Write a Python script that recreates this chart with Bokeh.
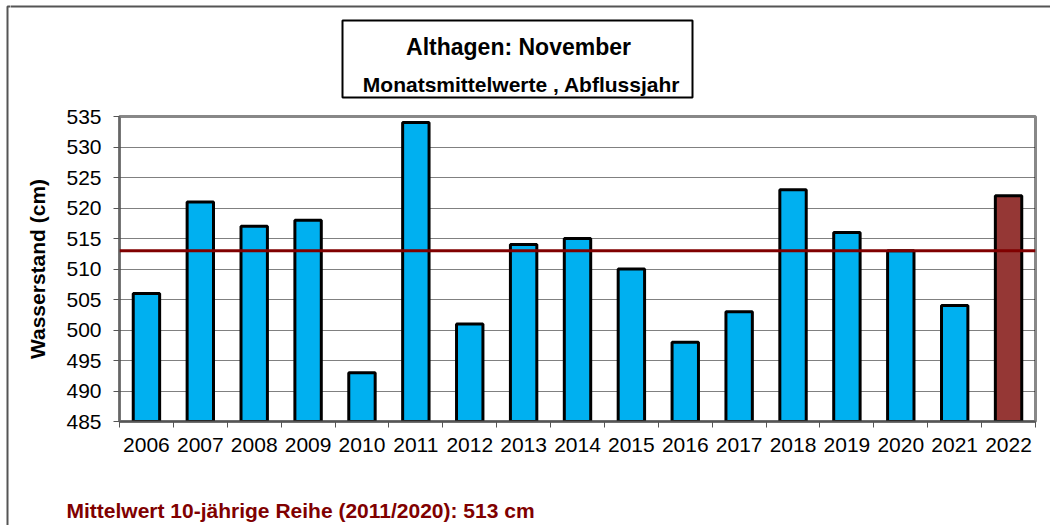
from bokeh.plotting import figure
from bokeh.layouts import row, column
from bokeh.models import (Range1d, LinearAxis, FixedTicker,
                          Span, Label, BoxAnnotation, ColumnDataSource)
from bokeh.embed import file_html
from bokeh.resources import INLINE

years = ["2006", "2007", "2008", "2009", "2010", "2011", "2012", "2013", "2014",
         "2015", "2016", "2017", "2018", "2019", "2020", "2021", "2022"]
levels = [506, 521, 517, 518, 493, 534, 501, 514, 515, 510, 498, 503, 523, 516, 513, 504, 522]
mean_10y = 513
y_min, y_max = 485, 535
y_ticks = [485, 490, 495, 500, 505, 510, 515, 520, 525, 530, 535]

title_text = "Althagen: November"
subtitle_text = "Monatsmittelwerte , Abflussjahr"
y_label = "Wasserstand (cm)"
mean_text = "Mittelwert 10-jährige Reihe (2011/2020): 513 cm"

FONT = "Liberation Sans"
BLUE = "#00B0F0"
CURRENT = "#953735"
DARKRED = "#800000"
BORDER = "#555555"

TOTAL_H = 525
STRIP_W = 10
MAIN_W = 1040
TOP_H = 100
BOTTOM_H = 55
MAIN_H = TOTAL_H - TOP_H - BOTTOM_H
MAIN_TOP = 16


def blank(width, height):
    f = figure(width=width, height=height, output_backend="svg", toolbar_location=None,
               x_axis_location=None, y_axis_location=None,
               x_range=Range1d(0, 1), y_range=Range1d(0, 1),
               min_border_left=0, min_border_right=0, min_border_top=0, min_border_bottom=0)
    f.frame_align = False
    f.grid.visible = False
    f.outline_line_color = None
    return f


def screen_box(**kw):
    return BoxAnnotation(left_units="screen", right_units="screen",
                         top_units="screen", bottom_units="screen", **kw)


# --- left strip: outer chart border (left edge) ---
strip = blank(STRIP_W, TOTAL_H)
strip.add_layout(screen_box(left=7, right=500, top=TOTAL_H - 6, bottom=-500,
                            fill_color=None, line_color=BORDER, line_alpha=1, line_width=2))

# --- top: outer border (top edge) and title box ---
top = blank(MAIN_W, TOP_H)
top.add_layout(screen_box(left=-500, right=5000, top=TOP_H - 6, bottom=-500,
                          fill_color=None, line_color=BORDER, line_alpha=1, line_width=2))
top.add_layout(screen_box(left=332, right=682, top=TOP_H - 20, bottom=TOP_H - 97,
                          fill_color="white", fill_alpha=1, line_color="black",
                          line_alpha=1, line_width=2))
top.add_layout(Label(x=508, y=TOP_H - 46, x_units="screen", y_units="screen", text=title_text,
                     text_font=FONT, text_font_size="23px", text_font_style="bold",
                     text_align="center", text_baseline="alphabetic", text_color="black"))
top.add_layout(Label(x=511, y=TOP_H - 84, x_units="screen", y_units="screen", text=subtitle_text,
                     text_font=FONT, text_font_size="21px", text_font_style="bold",
                     text_align="center", text_baseline="alphabetic", text_color="black"))

# --- main chart ---
n = len(years)
pos = list(range(n))
colors = [CURRENT if y == years[-1] else BLUE for y in years]
src = ColumnDataSource(dict(pos=pos, year=years, level=levels, color=colors))

p = figure(width=MAIN_W, height=MAIN_H, output_backend="svg", toolbar_location=None,
           x_range=Range1d(-0.5, n - 0.5), y_range=Range1d(y_min, y_max),
           x_axis_location=None, y_axis_location="left",
           min_border_left=109, min_border_right=15, min_border_top=MAIN_TOP,
           min_border_bottom=MAIN_H - MAIN_TOP - 305)
p.frame_align = False

p.vbar(x="pos", top="level", bottom=y_min, width=0.49, source=src,
       fill_color="color", line_color="black", line_width=3)

bounds = [i - 0.5 for i in range(n + 1)]
tick_axis = LinearAxis(ticker=FixedTicker(ticks=bounds),
                       major_label_overrides={b: "" for b in bounds},
                       major_label_text_font_size="0px",
                       major_label_standoff=0, major_tick_in=0, major_tick_out=6,
                       minor_tick_out=0, minor_tick_in=0,
                       axis_line_color=BORDER, axis_line_width=2,
                       major_tick_line_color=BORDER, major_tick_line_width=1)
p.add_layout(tick_axis, "below")
lab_axis = LinearAxis(ticker=FixedTicker(ticks=pos),
                      major_label_overrides={i: y for i, y in zip(pos, years)},
                      axis_line_color=None, major_tick_line_color=None,
                      minor_tick_line_color=None, major_label_standoff=4,
                      major_label_text_font=FONT, major_label_text_font_size="21px",
                      major_label_text_color="black")
p.add_layout(lab_axis, "below")

yax = p.yaxis[0]
yax.ticker = FixedTicker(ticks=y_ticks)
yax.major_tick_in = 0
yax.major_tick_out = 6
yax.minor_tick_line_color = None
yax.axis_line_color = "#666666"
yax.axis_line_width = 2
yax.major_tick_line_color = BORDER
yax.major_label_text_font = FONT
yax.major_label_text_font_size = "21px"
yax.major_label_text_color = "black"
yax.major_label_standoff = 12
yax.axis_label = y_label
yax.axis_label_text_font = FONT
yax.axis_label_text_font_size = "21px"
yax.axis_label_text_font_style = "bold"
yax.axis_label_text_color = "black"
yax.axis_label_standoff = 14

p.ygrid.grid_line_color = "black"
p.ygrid.grid_line_dash = "1 1"
p.ygrid.grid_line_width = 1
for g in p.xgrid:
    g.visible = False

p.outline_line_color = "#888888"
p.outline_line_width = 3

p.add_layout(Span(location=mean_10y, dimension="width", line_color=DARKRED, line_width=3))

# --- bottom: mean note ---
bottom = blank(MAIN_W, BOTTOM_H)
bottom.add_layout(Label(x=56, y=TOTAL_H - 510, x_units="screen", y_units="screen", text=mean_text,
                        text_font=FONT, text_font_size="21px", text_font_style="bold",
                        text_align="left", text_baseline="alphabetic", text_color=DARKRED))

layout = row(strip, column(top, p, bottom))
open("out.html", "w").write(file_html(layout, INLINE))
